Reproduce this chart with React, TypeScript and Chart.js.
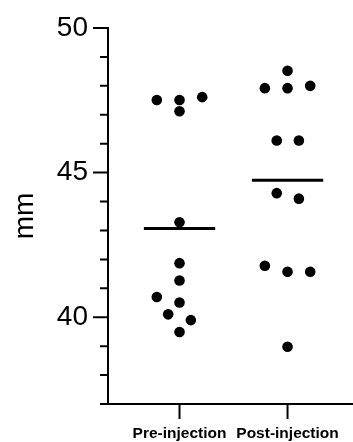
import React, { useEffect, useRef } from 'react';
import { Chart, registerables } from 'chart.js';

Chart.register(...registerables);

const CATEGORIES = ['Pre-injection', 'Post-injection'];
const PRE_VALUES = [47.51, 47.51, 47.61, 47.12, 43.28, 41.87, 41.27, 40.7, 40.51, 40.1, 39.9, 39.49];
const PRE_JITTER = [-0.21, 0, 0.21, 0, 0, 0, 0, -0.21, 0, -0.105, 0.105, 0];
const POST_VALUES = [48.52, 47.92, 47.92, 48.0, 46.11, 46.11, 44.29, 44.1, 41.78, 41.57, 41.57, 38.98];
const POST_JITTER = [0, -0.21, 0, 0.21, -0.1, 0.105, -0.1, 0.105, -0.21, 0, 0.21, 0];
const MEANS = [43.07, 44.74];
const Y_MAJOR_TICKS = [40, 45, 50];
const Y_MINOR_TICKS = [38, 39, 41, 42, 43, 44, 46, 47, 48, 49];
const Y_MIN = 37;
const Y_MAX = 50;
const Y_TITLE = 'mm';

const FONT = '"Liberation Sans", Arial, Helvetica, sans-serif';

const axesPlugin = {
  id: 'prismAxes',
  afterDraw(chart: any) {
    const ctx = chart.ctx;
    const { left, bottom } = chart.chartArea;
    const ys = chart.scales.y;
    const xs = chart.scales.x;
    ctx.save();
    ctx.strokeStyle = '#000';
    ctx.lineWidth = 2;
    ctx.lineCap = 'butt';
    ctx.beginPath();
    const yTop = ys.getPixelForValue(Y_MAX);
    ctx.moveTo(left, yTop - 1);
    ctx.lineTo(left, bottom + 1);
    ctx.moveTo(left - 8, bottom);
    ctx.lineTo(chart.width, bottom);
    Y_MAJOR_TICKS.forEach((v) => {
      const p = ys.getPixelForValue(v);
      ctx.moveTo(left - 15, p);
      ctx.lineTo(left, p);
    });
    Y_MINOR_TICKS.forEach((v) => {
      const p = ys.getPixelForValue(v);
      ctx.moveTo(left - 8, p);
      ctx.lineTo(left, p);
    });
    xs.ticks.forEach((t: any) => {
      const p = xs.getPixelForValue(t.value);
      ctx.moveTo(p, bottom);
      ctx.lineTo(p, bottom + 15);
    });
    ctx.stroke();
    ctx.restore();
  },
};

export default function App() {
  const canvasRef = useRef<HTMLCanvasElement | null>(null);

  useEffect(() => {
    if (!canvasRef.current) return;
    const pre = PRE_VALUES.map((y, i) => ({ x: 1 + PRE_JITTER[i], y }));
    const post = POST_VALUES.map((y, i) => ({ x: 2 + POST_JITTER[i], y }));
    const halfW = 0.33;
    const meanLines = MEANS.map((m, i) => ({
      data: [
        { x: i + 1 - halfW, y: m },
        { x: i + 1 + halfW, y: m },
      ],
      showLine: true,
      borderColor: '#000',
      borderWidth: 3,
      pointRadius: 0,
      borderCapStyle: 'butt',
    }));

    const chart = new Chart(canvasRef.current, {
      type: 'scatter',
      data: {
        datasets: [
          {
            label: CATEGORIES[0],
            data: pre,
            backgroundColor: '#000',
            borderColor: '#000',
            pointRadius: 5.3,
            borderWidth: 0,
          },
          {
            label: CATEGORIES[1],
            data: post,
            backgroundColor: '#000',
            borderColor: '#000',
            pointRadius: 5.3,
            borderWidth: 0,
          },
          ...(meanLines as any[]),
        ],
      },
      options: {
        animation: false,
        responsive: true,
        maintainAspectRatio: false,
        layout: { autoPadding: false, padding: { top: 28, left: 0, right: 0, bottom: 0 } },
        plugins: {
          legend: { display: false },
          tooltip: { enabled: false },
        },
        scales: {
          x: {
            type: 'linear',
            min: 0.338,
            max: 2.606,
            grid: { display: false, drawTicks: true, tickLength: 20 },
            border: { display: false },
            afterBuildTicks: (s: any) => {
              s.ticks = [1, 2].map((v) => ({ value: v }));
            },
            afterFit: (s: any) => {
              s.height = 38;
              s.paddingLeft = 0;
              s.paddingRight = 0;
            },
            ticks: {
              autoSkip: false,
              maxRotation: 0,
              padding: 0,
              color: '#000',
              font: { family: FONT, size: 15.5, weight: 'bold' },
              callback: (v: any) => CATEGORIES[Math.round(Number(v)) - 1] ?? '',
            },
          },
          y: {
            type: 'linear',
            min: Y_MIN,
            max: Y_MAX,
            grid: { display: false, drawTicks: true, tickLength: 20 },
            border: { display: false },
            afterBuildTicks: (s: any) => {
              s.ticks = Y_MAJOR_TICKS.map((v) => ({ value: v }));
            },
            afterFit: (s: any) => {
              s.width = 108;
              s.paddingTop = 0;
              s.paddingBottom = 0;
            },
            ticks: {
              autoSkip: false,
              padding: 0,
              color: '#000',
              font: { family: FONT, size: 28 },
              callback: (v: any) => String(v),
            },
            title: {
              display: true,
              text: Y_TITLE,
              color: '#000',
              font: { family: FONT, size: 28 },
              padding: { top: 8, bottom: 0 },
            },
          },
        },
      } as any,
      plugins: [axesPlugin],
    });
    return () => chart.destroy();
  }, []);

  return (
    <div style={{ position: 'fixed', left: 0, top: 0, width: 353, height: 442, background: '#fff' }}>
      <canvas ref={canvasRef} />
    </div>
  );
}
